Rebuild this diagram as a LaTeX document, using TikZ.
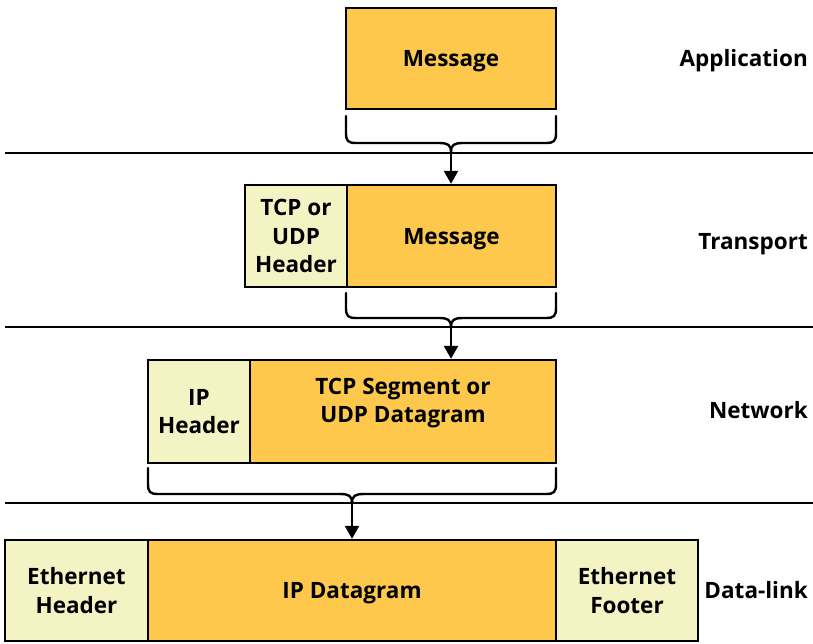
\documentclass[tikz,border=0pt]{standalone}
\usepackage{fontspec}
\setmainfont{Open Sans}[BoldFont={* Bold}]
\usetikzlibrary{arrows.meta}
\definecolor{payload}{RGB}{253,200,75}
\definecolor{hdr}{RGB}{244,243,196}
\tikzset{
  box/.style={draw=black, line width=2.4pt, inner sep=0pt, align=center, text depth=0pt,
    font=\fontsize{22.5}{28.5}\selectfont\bfseries},
  paybox/.style={box, fill=payload},
  hdrbox/.style={box, fill=hdr},
  boxtext/.style={inner sep=0pt, align=center, font=\fontsize{22.5}{28.5}\selectfont\bfseries},
  layerlabel/.style={anchor=base east, inner sep=0pt, font=\fontsize{22.5}{26}\selectfont\bfseries},
  layerline/.style={line width=2pt},
  bracepath/.style={line width=2.4pt, line cap=round, line join=round},
  downarrow/.style={line width=2.4pt, -{Triangle[length=13pt,width=14pt]}},
}
\newcommand{\encbrace}[5]{% xl, xr, ytop, yhoriz, ycusp
  \draw[bracepath] (#1,#3) -- (#1,#4-10) .. controls (#1,#4-2) and (#1+2,#4) .. (#1+10,#4)
    -- ({(#1+#2)/2-12},#4) .. controls ({(#1+#2)/2-3},#4) and ({(#1+#2)/2},#4+2) .. ({(#1+#2)/2},#5);
  \draw[bracepath] (#2,#3) -- (#2,#4-10) .. controls (#2,#4-2) and (#2-2,#4) .. (#2-10,#4)
    -- ({(#1+#2)/2+12},#4) .. controls ({(#1+#2)/2+3},#4) and ({(#1+#2)/2},#4+2) .. ({(#1+#2)/2},#5);
}
\begin{document}
\begin{tikzpicture}[x=1pt,y=-1pt]
\useasboundingbox (0,0) rectangle (813,644);

% layer separators
\coordinate (l1a) at (5,153); \coordinate (l1b) at (813,153);
\coordinate (l2a) at (5,327); \coordinate (l2b) at (813,327);
\coordinate (l3a) at (5,503); \coordinate (l3b) at (813,503);
\draw[layerline] (l1a) -- (l1b);
\draw[layerline] (l2a) -- (l2b);
\draw[layerline] (l3a) -- (l3b);

% Application
\node[paybox, minimum width=210, minimum height=101] (appmsg) at (451,58.5) {Message};
% Transport
\node[hdrbox, minimum width=102, minimum height=102] (tcphdr) at (296,236) {TCP or\\UDP\\Header};
\node[paybox, minimum width=209, minimum height=102] (trmsg) at (451.5,236) {Message};
% Network
\node[hdrbox, minimum width=102, minimum height=103] (iphdr) at (199,411.5) {IP\\Header};
\node[paybox, minimum width=306, minimum height=103] (seg) at (403,411.5) {};
\node[boxtext] (segtext) at (403,403) {TCP Segment or\\UDP Datagram};
% Data-link
\node[hdrbox, minimum width=143, minimum height=101] (ethhdr) at (76.5,590.5) {Ethernet\\Header};
\node[paybox, minimum width=408, minimum height=101] (ipdg) at (352,590.5) {IP Datagram};
\node[hdrbox, minimum width=142, minimum height=101] (ethftr) at (627,590.5) {Ethernet\\Footer};

% layer labels
\node[layerlabel] (lapp) at (808,67) {Application};
\node[layerlabel] (ltr) at (808,250) {Transport};
\node[layerlabel] (lnet) at (808,418) {Network};
\node[layerlabel] (ldl) at (808,598) {Data-link};

% braces and arrows
\encbrace{346}{556}{116}{143}{152}
\coordinate (c1) at (451,152);
\draw[downarrow] (c1) -- (trmsg.north -| c1);

\encbrace{346}{556}{293}{318}{327}
\coordinate (c2) at (451,327);
\draw[downarrow] (c2) -- (seg.north -| c2);

\encbrace{148}{556}{468}{494}{503}
\coordinate (c3) at (352,503);
\draw[downarrow] (c3) -- (ipdg.north -| c3);
\end{tikzpicture}
\end{document}
